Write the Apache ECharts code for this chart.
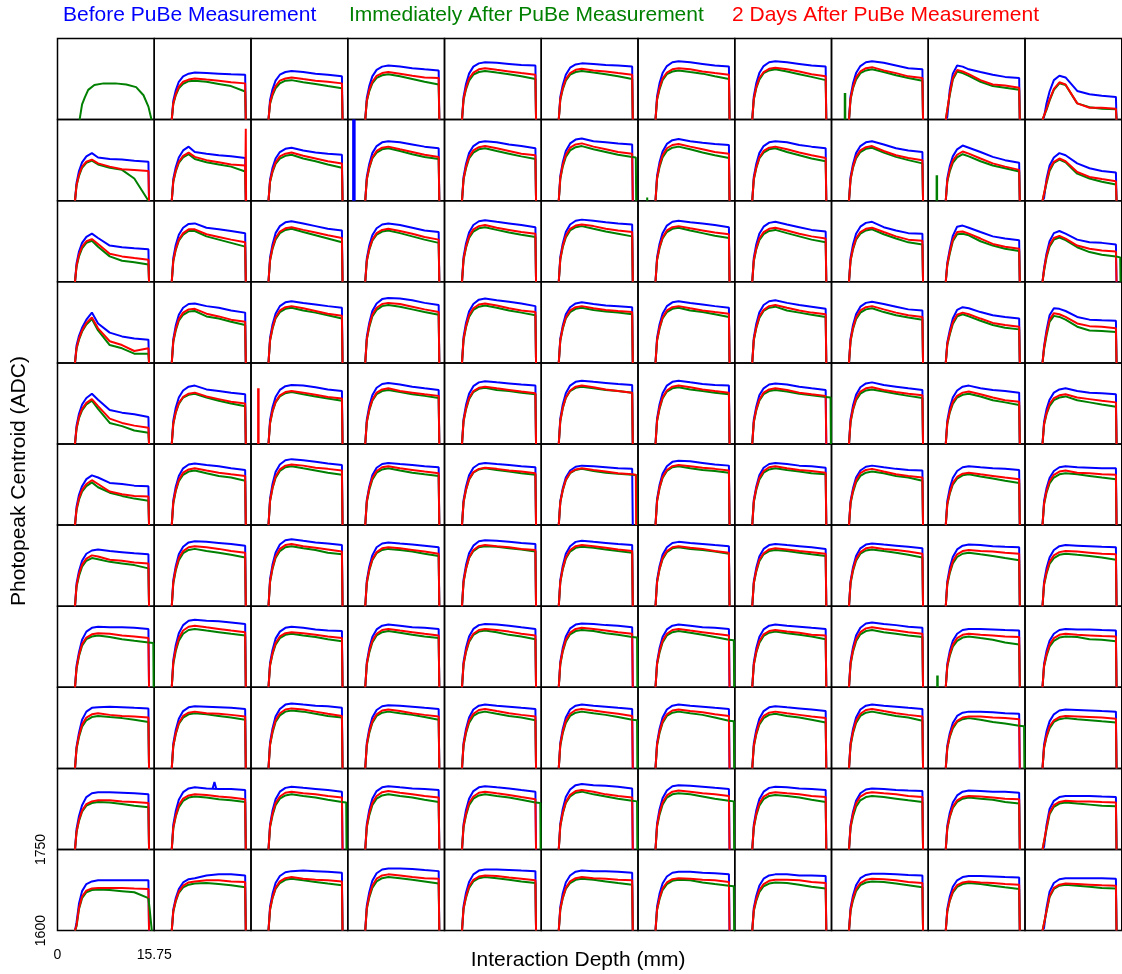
<!DOCTYPE html>
<html>
<head>
<meta charset="utf-8">
<script src="https://cdn.jsdelivr.net/npm/echarts/dist/echarts.min.js"></script>
<style>html,body{margin:0;padding:0;background:#fff}#chart{width:1122px;height:974px}</style>
</head>
<body>
<div id="chart"></div>
<script>
// Interaction depth sample points (mm) shared by the main curves of every panel
const depthMm = [2.85, 3.1, 3.5, 4.0, 4.7, 5.6, 6.6, 8.5, 10.5, 12.5, 14.8, 14.9];
const xTickLabels = ['0', '15.75'];
const yTickLabels = ['1600', '1750'];
const seriesNames = ['Before PuBe Measurement', 'Immediately After PuBe Measurement', '2 Days After PuBe Measurement'];
const axisTitles = ['Interaction Depth (mm)', 'Photopeak Centroid (ADC)'];

// Photopeak centroid (ADC) per panel (row-major, 11 x 11), "Before PuBe"
const blueCurves = [
// row 0
[],
[1600,1635,1654,1670,1680,1685,1687,1686,1685,1684,1683,1600],
[1600,1636,1656,1672,1683,1688,1690,1688,1685,1683,1680,1600],
[1600,1640,1662,1680,1692,1698,1700,1698,1695,1693,1691,1600],
[1600,1642,1666,1685,1698,1704,1706,1705,1703,1701,1700,1600],
[1600,1642,1664,1683,1696,1702,1704,1703,1701,1700,1698,1600],
[1600,1643,1667,1686,1699,1706,1708,1706,1703,1700,1698,1600],
[1600,1643,1667,1686,1699,1706,1708,1706,1703,1700,1698,1600],
[1600,1643,1667,1686,1699,1706,1708,1705,1700,1695,1693,1600],
[1600,1605,1655,1685,1700,1698,1693,1688,1683,1679,1677,1600],
[1600,1605,1630,1652,1673,1681,1678,1653,1647,1644,1642,1600],
// row 1
[1600,1633,1655,1671,1682,1688,1680,1677,1676,1674,1672,1600],
[1600,1640,1662,1680,1693,1700,1690,1687,1684,1682,1679,1600],
[1600,1639,1661,1678,1690,1696,1698,1693,1689,1687,1685,1600],
[1600,1644,1668,1688,1701,1708,1710,1708,1704,1700,1697,1600],
[1600,1644,1668,1688,1701,1708,1710,1708,1704,1701,1697,1600],
[1600,1646,1671,1692,1706,1713,1715,1710,1708,1706,1704,1600],
[1600,1646,1671,1691,1705,1712,1714,1710,1707,1705,1703,1600],
[1600,1644,1668,1688,1701,1708,1710,1708,1703,1700,1697,1600],
[1600,1644,1668,1688,1701,1708,1710,1704,1697,1693,1690,1600],
[1600,1641,1664,1682,1695,1702,1698,1690,1681,1675,1670,1600],
[1600,1605,1640,1665,1680,1688,1684,1669,1660,1655,1652,1600],
// row 2
[1600,1634,1656,1672,1683,1689,1681,1667,1664,1662,1660,1600],
[1600,1644,1668,1687,1700,1707,1708,1700,1697,1694,1690,1600],
[1600,1645,1669,1690,1703,1710,1712,1708,1703,1698,1695,1600],
[1600,1643,1667,1686,1699,1706,1708,1705,1700,1695,1692,1600],
[1600,1646,1671,1691,1705,1712,1714,1711,1708,1705,1701,1600],
[1600,1646,1671,1692,1706,1713,1715,1713,1710,1708,1706,1600],
[1600,1645,1670,1690,1704,1711,1713,1710,1708,1705,1701,1600],
[1600,1644,1669,1689,1702,1709,1711,1706,1701,1696,1693,1600],
[1600,1644,1669,1689,1702,1709,1711,1701,1695,1690,1689,1600],
[1600,1635,1660,1685,1702,1704,1700,1692,1684,1680,1677,1600],
[1600,1625,1652,1675,1690,1694,1689,1678,1673,1672,1669,1600],
// row 3
[1600,1632,1650,1665,1680,1693,1673,1656,1649,1645,1643,1600],
[1600,1644,1669,1689,1702,1709,1710,1705,1702,1697,1693,1600],
[1600,1646,1671,1691,1705,1712,1714,1711,1708,1705,1702,1600],
[1600,1648,1674,1696,1710,1718,1720,1719,1716,1711,1707,1600],
[1600,1648,1674,1695,1709,1717,1719,1716,1713,1710,1705,1600],
[1600,1645,1669,1690,1703,1710,1712,1709,1706,1705,1703,1600],
[1600,1646,1671,1691,1705,1712,1714,1711,1708,1705,1702,1600],
[1600,1646,1672,1693,1707,1714,1716,1711,1707,1704,1700,1600],
[1600,1645,1670,1690,1704,1711,1713,1709,1704,1699,1697,1600],
[1600,1638,1660,1682,1698,1703,1701,1694,1688,1685,1682,1600],
[1600,1630,1660,1688,1701,1700,1696,1685,1680,1679,1678,1600],
// row 4
[1600,1634,1656,1673,1685,1693,1682,1663,1658,1655,1650,1600],
[1600,1643,1667,1686,1699,1706,1708,1701,1698,1695,1692,1600],
[1600,1644,1668,1687,1700,1707,1709,1708,1705,1701,1698,1600],
[1600,1645,1670,1690,1704,1711,1713,1710,1706,1703,1700,1600],
[1600,1646,1672,1693,1707,1714,1716,1714,1712,1710,1708,1600],
[1600,1647,1673,1694,1708,1715,1717,1715,1713,1711,1709,1600],
[1600,1647,1673,1694,1708,1715,1717,1714,1711,1709,1708,1600],
[1600,1645,1669,1690,1703,1710,1712,1710,1706,1703,1700,1600],
[1600,1646,1671,1691,1705,1712,1714,1709,1706,1703,1700,1600],
[1600,1643,1667,1686,1699,1706,1708,1703,1700,1698,1695,1600],
[1600,1641,1664,1682,1695,1701,1703,1698,1695,1694,1692,1600],
// row 5
[1600,1634,1656,1672,1685,1692,1688,1678,1676,1673,1672,1600],
[1600,1646,1671,1691,1705,1712,1714,1711,1709,1705,1702,1600],
[1600,1649,1676,1698,1712,1720,1722,1720,1717,1714,1711,1600],
[1600,1646,1671,1692,1706,1713,1715,1713,1711,1709,1707,1600],
[1600,1646,1671,1692,1706,1713,1715,1713,1711,1709,1707,1600],
[1600,1644,1668,1688,1701,1708,1710,1709,1707,1705,1704,1600],
[1600,1648,1674,1695,1709,1717,1719,1718,1715,1712,1710,1600],
[1600,1646,1671,1692,1706,1713,1715,1713,1710,1709,1706,1600],
[1600,1644,1668,1688,1701,1708,1710,1707,1704,1702,1701,1600],
[1600,1644,1668,1687,1700,1707,1709,1707,1705,1704,1702,1600],
[1600,1644,1668,1687,1700,1707,1709,1707,1706,1705,1705,1600],
// row 6
[1600,1642,1665,1684,1697,1703,1705,1702,1700,1698,1696,1600],
[1600,1648,1674,1696,1710,1718,1720,1719,1717,1715,1712,1600],
[1600,1650,1677,1699,1714,1722,1724,1721,1718,1716,1713,1600],
[1600,1647,1673,1694,1709,1716,1718,1716,1714,1712,1709,1600],
[1600,1649,1676,1698,1712,1720,1722,1721,1719,1717,1715,1600],
[1600,1648,1675,1697,1711,1719,1721,1719,1717,1715,1713,1600],
[1600,1648,1674,1695,1709,1717,1719,1717,1715,1713,1711,1600],
[1600,1646,1671,1692,1706,1713,1715,1713,1711,1709,1706,1600],
[1600,1646,1672,1693,1707,1714,1716,1714,1712,1710,1707,1600],
[1600,1646,1671,1691,1705,1712,1714,1713,1711,1710,1709,1600],
[1600,1645,1670,1690,1704,1711,1713,1712,1711,1710,1709,1600],
// row 7
[1600,1640,1665,1688,1703,1710,1712,1711,1711,1710,1708,1600],
[1600,1650,1678,1700,1715,1723,1725,1723,1722,1720,1717,1600],
[1600,1645,1669,1690,1703,1710,1712,1710,1707,1705,1704,1600],
[1600,1646,1672,1693,1707,1714,1716,1714,1711,1710,1708,1600],
[1600,1647,1673,1694,1708,1715,1717,1716,1714,1711,1708,1600],
[1600,1647,1673,1694,1709,1716,1718,1717,1715,1714,1711,1600],
[1600,1646,1672,1693,1707,1714,1716,1714,1711,1710,1708,1600],
[1600,1646,1672,1693,1707,1714,1716,1714,1712,1710,1708,1600],
[1600,1648,1674,1696,1710,1718,1720,1717,1715,1712,1710,1600],
[1600,1643,1667,1686,1699,1706,1708,1708,1707,1706,1705,1600],
[1600,1643,1667,1686,1699,1706,1708,1707,1707,1706,1705,1600],
// row 8
[1600,1640,1666,1690,1705,1712,1713,1714,1713,1712,1711,1600],
[1600,1646,1671,1692,1706,1713,1715,1714,1713,1712,1710,1600],
[1600,1648,1674,1696,1710,1718,1720,1718,1716,1715,1712,1600],
[1600,1647,1673,1694,1708,1715,1717,1716,1714,1712,1710,1600],
[1600,1647,1673,1694,1709,1716,1718,1716,1714,1712,1710,1600],
[1600,1647,1673,1694,1709,1716,1718,1716,1714,1712,1710,1600],
[1600,1647,1673,1694,1709,1716,1718,1716,1714,1712,1710,1600],
[1600,1646,1671,1692,1706,1713,1715,1713,1711,1709,1706,1600],
[1600,1647,1673,1694,1709,1716,1718,1716,1714,1712,1710,1600],
[1600,1642,1665,1684,1697,1703,1705,1705,1704,1702,1701,1600],
[1600,1644,1668,1687,1700,1707,1709,1708,1707,1706,1705,1600],
// row 9
[1600,1638,1662,1682,1697,1704,1706,1706,1705,1704,1702,1600],
[1600,1646,1671,1692,1706,1713,1715,1713,1712,1712,1710,1600],
[1600,1646,1672,1693,1707,1714,1716,1714,1712,1710,1707,1600],
[1600,1647,1673,1694,1708,1715,1717,1715,1713,1712,1710,1600],
[1600,1647,1673,1694,1708,1715,1717,1715,1713,1710,1707,1600],
[1600,1648,1675,1697,1711,1719,1721,1719,1718,1716,1713,1600],
[1600,1648,1674,1695,1709,1717,1719,1718,1716,1714,1712,1600],
[1600,1646,1672,1693,1707,1714,1716,1715,1713,1712,1710,1600],
[1600,1645,1670,1690,1704,1711,1713,1712,1710,1709,1708,1600],
[1600,1644,1668,1687,1700,1707,1709,1708,1707,1707,1705,1600],
[1600,1605,1645,1675,1690,1697,1699,1699,1699,1698,1697,1600],
// row 10
[1600,1615,1650,1673,1686,1691,1693,1693,1693,1693,1693,1600],
[1600,1639,1660,1677,1689,1695,1697,1702,1704,1704,1702,1600],
[1600,1644,1668,1688,1701,1708,1710,1711,1710,1709,1707,1600],
[1600,1646,1671,1692,1706,1713,1715,1715,1714,1712,1710,1600],
[1600,1645,1670,1690,1704,1711,1713,1713,1712,1711,1710,1600],
[1600,1644,1669,1689,1702,1709,1711,1710,1710,1709,1707,1600],
[1600,1644,1668,1687,1700,1707,1709,1709,1707,1706,1704,1600],
[1600,1642,1664,1683,1696,1702,1704,1704,1702,1702,1701,1600],
[1600,1642,1665,1684,1697,1703,1705,1705,1704,1703,1702,1600],
[1600,1640,1663,1681,1693,1699,1701,1701,1700,1699,1698,1600],
[1600,1605,1642,1672,1688,1695,1697,1697,1697,1697,1696,1600]
];

// "Immediately After PuBe"
const greenCurves = [
// row 0
[],
[1600,1629,1645,1658,1666,1671,1672,1670,1666,1662,1652,1600],
[1600,1629,1645,1658,1667,1672,1673,1669,1666,1662,1658,1600],
[1600,1634,1652,1667,1677,1682,1684,1680,1675,1670,1665,1600],
[1600,1636,1656,1672,1683,1688,1690,1687,1684,1680,1675,1600],
[1600,1636,1656,1672,1683,1688,1690,1687,1684,1680,1675,1600],
[1600,1636,1656,1673,1684,1689,1691,1688,1685,1680,1675,1600],
[1600,1637,1658,1674,1686,1691,1693,1689,1684,1679,1673,1600],
[1600,1637,1658,1674,1686,1691,1693,1688,1682,1677,1672,1600],
[1600,1602,1645,1674,1689,1686,1681,1670,1662,1659,1655,1600],
[1600,1602,1618,1635,1655,1667,1664,1630,1623,1620,1619,1600],
// row 1
[1600,1628,1646,1661,1670,1674,1667,1661,1657,1641,1600,1600],
[1600,1635,1654,1670,1680,1686,1677,1671,1667,1663,1654,1600],
[1600,1634,1653,1668,1678,1683,1685,1678,1673,1667,1661,1600],
[1600,1639,1660,1678,1689,1695,1697,1692,1686,1681,1677,1600],
[1600,1639,1660,1678,1689,1695,1697,1692,1687,1682,1677,1600],
[1600,1640,1663,1681,1693,1699,1701,1695,1690,1685,1681,null],
[1600,1640,1662,1680,1692,1698,1700,1695,1689,1684,1679,1600],
[1600,1639,1660,1678,1689,1695,1697,1690,1684,1678,1673,1600],
[1600,1639,1661,1678,1690,1696,1698,1689,1681,1675,1669,1600],
[1600,1635,1654,1670,1680,1686,1682,1673,1665,1660,1654,1600],
[1600,1602,1632,1655,1670,1676,1671,1650,1641,1635,1630,1600],
// row 2
[1600,1628,1647,1662,1672,1676,1665,1647,1639,1636,1632,1600],
[1600,1638,1659,1676,1687,1694,1694,1684,1678,1672,1665,1600],
[1600,1639,1661,1678,1690,1696,1698,1692,1686,1680,1673,1600],
[1600,1638,1659,1676,1687,1693,1695,1690,1684,1678,1672,1600],
[1600,1640,1663,1681,1693,1699,1701,1696,1691,1687,1683,1600],
[1600,1641,1664,1682,1695,1701,1703,1698,1693,1689,1684,1600],
[1600,1640,1662,1680,1692,1698,1700,1695,1690,1685,1681,1600],
[1600,1638,1660,1677,1688,1694,1696,1690,1684,1678,1673,1600],
[1600,1639,1660,1678,1689,1695,1697,1688,1680,1673,1669,1600],
[1600,1630,1652,1675,1688,1689,1686,1675,1667,1661,1657,1600],
[1600,1620,1645,1665,1678,1682,1677,1664,1655,1650,1647,null],
// row 3
[1600,1626,1643,1658,1671,1681,1660,1633,1627,1617,1617,1600],
[1600,1639,1660,1678,1689,1695,1696,1686,1682,1676,1670,1600],
[1600,1641,1663,1682,1694,1700,1702,1697,1693,1688,1682,1600],
[1600,1643,1666,1686,1698,1705,1707,1704,1699,1694,1689,1600],
[1600,1642,1666,1685,1698,1704,1706,1702,1697,1693,1688,1600],
[1600,1641,1663,1682,1694,1700,1702,1698,1695,1693,1690,1600],
[1600,1641,1663,1682,1694,1700,1702,1697,1694,1690,1685,1600],
[1600,1642,1664,1683,1696,1702,1704,1697,1693,1689,1685,1600],
[1600,1640,1663,1681,1693,1699,1701,1694,1688,1684,1680,1600],
[1600,1633,1652,1672,1686,1690,1686,1678,1670,1665,1662,1600],
[1600,1625,1650,1676,1687,1685,1680,1667,1660,1659,1657,1600],
// row 4
[1600,1628,1648,1662,1673,1680,1665,1639,1633,1625,1621,1600],
[1600,1637,1658,1674,1686,1691,1693,1686,1680,1675,1670,1600],
[1600,1638,1660,1677,1688,1694,1696,1692,1688,1684,1680,1600],
[1600,1640,1662,1680,1692,1698,1700,1696,1692,1689,1685,1600],
[1600,1642,1664,1683,1696,1702,1704,1700,1698,1695,1692,1600],
[1600,1642,1666,1685,1698,1704,1706,1703,1700,1698,1695,1600],
[1600,1642,1665,1684,1697,1703,1705,1701,1698,1695,1692,1600],
[1600,1640,1662,1680,1692,1698,1700,1697,1693,1690,1687,null],
[1600,1640,1663,1681,1693,1699,1701,1697,1693,1689,1685,1600],
[1600,1637,1658,1674,1686,1691,1693,1688,1681,1677,1672,1600],
[1600,1635,1655,1670,1681,1686,1688,1681,1677,1673,1669,1600],
// row 5
[1600,1628,1647,1662,1672,1679,1670,1660,1654,1649,1645,1600],
[1600,1640,1663,1681,1693,1699,1701,1696,1691,1688,1682,1600],
[1600,1644,1668,1687,1700,1707,1709,1705,1701,1697,1693,1600],
[1600,1642,1665,1684,1697,1703,1705,1701,1697,1694,1691,1600],
[1600,1642,1665,1684,1697,1703,1705,1702,1699,1696,1693,1600],
[1600,1642,1664,1683,1696,1702,1704,1700,1697,1695,1693,null],
[1600,1644,1668,1687,1700,1707,1709,1705,1702,1700,1697,1600],
[1600,1642,1665,1684,1697,1703,1705,1702,1699,1696,1694,1600],
[1600,1640,1661,1679,1691,1697,1699,1696,1691,1688,1682,1600],
[1600,1638,1658,1675,1686,1692,1694,1690,1686,1682,1678,1600],
[1600,1638,1660,1677,1688,1694,1696,1694,1691,1688,1685,1600],
// row 6
[1600,1636,1656,1673,1684,1689,1687,1682,1679,1676,1670,1600],
[1600,1642,1666,1685,1698,1704,1706,1702,1699,1695,1690,1600],
[1600,1644,1669,1689,1702,1709,1711,1707,1704,1699,1696,1600],
[1600,1642,1666,1685,1698,1704,1706,1704,1701,1697,1693,1600],
[1600,1644,1669,1689,1702,1709,1711,1710,1707,1705,1701,1600],
[1600,1644,1668,1688,1701,1708,1710,1708,1705,1702,1699,1600],
[1600,1644,1668,1687,1700,1707,1709,1706,1704,1701,1697,1600],
[1600,1642,1664,1683,1696,1702,1704,1702,1699,1696,1693,1600],
[1600,1642,1665,1684,1697,1703,1705,1702,1699,1695,1690,1600],
[1600,1640,1661,1679,1691,1697,1699,1696,1693,1689,1685,1600],
[1600,1639,1660,1678,1689,1695,1697,1695,1693,1690,1686,1600],
// row 7
[1600,1634,1658,1677,1689,1694,1696,1693,1689,1686,1683,null],
[1600,1643,1667,1686,1699,1706,1708,1705,1702,1699,1696,1600],
[1600,1640,1661,1679,1691,1697,1699,1696,1693,1689,1685,1600],
[1600,1642,1664,1683,1696,1702,1704,1701,1697,1694,1691,1600],
[1600,1642,1665,1684,1697,1703,1705,1702,1697,1694,1689,1600],
[1600,1642,1666,1685,1698,1704,1706,1704,1700,1697,1693,null],
[1600,1642,1664,1683,1696,1702,1704,1701,1697,1693,1688,null],
[1600,1641,1664,1682,1695,1701,1703,1700,1697,1694,1689,1600],
[1600,1642,1666,1685,1698,1704,1706,1702,1699,1696,1693,1600],
[1600,1638,1658,1675,1686,1692,1694,1691,1688,1683,1679,1600],
[1600,1638,1658,1675,1686,1692,1694,1693,1689,1688,1685,1600],
// row 8
[1600,1636,1658,1677,1689,1695,1697,1695,1693,1690,1686,1600],
[1600,1641,1663,1682,1694,1700,1702,1700,1697,1694,1690,1600],
[1600,1643,1666,1686,1698,1705,1707,1705,1701,1697,1694,1600],
[1600,1642,1665,1684,1697,1703,1705,1702,1699,1695,1690,1600],
[1600,1642,1665,1684,1697,1703,1705,1701,1697,1694,1689,1600],
[1600,1642,1665,1684,1697,1703,1705,1702,1699,1695,1690,null],
[1600,1642,1665,1684,1697,1703,1705,1702,1699,1694,1688,null],
[1600,1640,1663,1681,1693,1699,1701,1697,1694,1690,1685,1600],
[1600,1642,1665,1684,1697,1703,1705,1701,1697,1694,1688,1600],
[1600,1637,1658,1674,1686,1691,1693,1690,1686,1683,1679,null],
[1600,1637,1658,1674,1686,1691,1693,1691,1689,1687,1685,1600],
// row 9
[1600,1632,1653,1670,1681,1686,1688,1687,1684,1681,1678,1600],
[1600,1639,1661,1678,1690,1696,1698,1696,1693,1691,1688,1600],
[1600,1641,1663,1682,1694,1700,1702,1699,1696,1692,1688,null],
[1600,1641,1663,1682,1694,1700,1702,1699,1696,1692,1688,1600],
[1600,1641,1663,1682,1694,1700,1702,1699,1696,1692,1687,null],
[1600,1643,1666,1686,1698,1705,1707,1702,1698,1694,1690,null],
[1600,1642,1664,1683,1696,1702,1704,1702,1698,1694,1690,null],
[1600,1640,1663,1681,1693,1699,1701,1699,1696,1692,1688,1600],
[1600,1640,1661,1679,1691,1697,1699,1697,1694,1691,1688,1600],
[1600,1638,1660,1677,1688,1694,1696,1694,1692,1688,1685,1600],
[1600,1602,1637,1665,1679,1685,1687,1685,1683,1681,1680,1600],
// row 10
[1600,1608,1640,1660,1671,1675,1676,1675,1673,1671,1660,null],
[1600,1635,1654,1670,1680,1685,1687,1688,1686,1684,1680,1600],
[1600,1638,1660,1677,1688,1694,1696,1693,1690,1687,1684,1600],
[1600,1640,1661,1679,1691,1697,1699,1697,1694,1691,1687,1600],
[1600,1640,1661,1679,1691,1697,1699,1697,1694,1691,1688,1600],
[1600,1638,1660,1677,1688,1694,1696,1694,1691,1688,1685,1600],
[1600,1638,1658,1675,1686,1692,1694,1693,1689,1686,1683,null],
[1600,1636,1655,1671,1682,1687,1689,1688,1685,1681,1678,1600],
[1600,1636,1656,1673,1684,1689,1691,1690,1687,1684,1680,1600],
[1600,1635,1655,1670,1681,1686,1688,1686,1683,1680,1677,1600],
[1600,1603,1635,1662,1677,1683,1685,1683,1681,1679,1678,1600]
];

// "2 Days After PuBe"
const redCurves = [
// row 0
[],
[1600,1630,1647,1661,1670,1674,1676,1674,1672,1669,1667,1600],
[1600,1631,1648,1662,1672,1676,1678,1675,1672,1670,1667,1600],
[1600,1635,1655,1670,1681,1686,1688,1685,1681,1678,1677,1600],
[1600,1638,1659,1676,1687,1693,1695,1692,1689,1686,1683,1600],
[1600,1638,1658,1675,1686,1692,1694,1691,1689,1686,1683,1600],
[1600,1638,1659,1676,1687,1693,1695,1693,1689,1686,1683,1600],
[1600,1638,1660,1677,1688,1694,1696,1693,1689,1684,1680,1600],
[1600,1639,1660,1678,1689,1695,1697,1691,1686,1680,1677,1600],
[1600,1603,1648,1677,1692,1689,1684,1673,1665,1663,1659,1600],
[1600,1603,1620,1637,1657,1669,1665,1630,1622,1622,1620,1600],
// row 1
[1600,1629,1648,1663,1672,1676,1669,1663,1658,1657,1655,1600],
[1600,1636,1656,1672,1683,1689,1681,1675,1671,1667,1665,1600],
[1600,1636,1655,1671,1682,1687,1689,1683,1678,1673,1669,1600],
[1600,1640,1662,1680,1692,1698,1700,1695,1690,1685,1681,1600],
[1600,1640,1663,1681,1693,1699,1701,1697,1692,1687,1684,1600],
[1600,1642,1666,1685,1698,1704,1706,1700,1695,1690,1687,1600],
[1600,1642,1665,1684,1697,1703,1705,1700,1695,1690,1687,1600],
[1600,1640,1662,1680,1692,1698,1700,1695,1689,1684,1679,1600],
[1600,1640,1663,1681,1693,1699,1701,1692,1684,1679,1675,1600],
[1600,1637,1658,1674,1685,1691,1687,1678,1669,1663,1657,1600],
[1600,1603,1635,1658,1672,1678,1673,1653,1644,1640,1636,1600],
// row 2
[1600,1630,1650,1665,1675,1679,1670,1652,1647,1644,1641,1600],
[1600,1639,1661,1678,1690,1697,1697,1688,1683,1678,1673,1600],
[1600,1640,1663,1681,1693,1699,1701,1696,1691,1686,1681,1600],
[1600,1639,1661,1678,1690,1696,1698,1694,1689,1683,1678,1600],
[1600,1642,1665,1684,1697,1703,1705,1700,1696,1692,1689,1600],
[1600,1642,1666,1685,1698,1704,1706,1703,1698,1695,1692,1600],
[1600,1641,1664,1682,1695,1701,1703,1699,1695,1691,1688,1600],
[1600,1640,1662,1680,1692,1698,1700,1695,1689,1684,1680,1600],
[1600,1640,1662,1680,1692,1698,1700,1692,1684,1678,1676,1600],
[1600,1632,1655,1678,1692,1693,1689,1680,1670,1665,1661,1600],
[1600,1622,1648,1668,1681,1685,1680,1667,1661,1658,1656,1600],
// row 3
[1600,1628,1645,1660,1674,1684,1664,1640,1633,1622,1627,1600],
[1600,1640,1663,1681,1693,1699,1700,1691,1686,1680,1676,1600],
[1600,1642,1665,1684,1697,1703,1705,1701,1696,1691,1687,1600],
[1600,1644,1669,1689,1702,1709,1711,1709,1704,1699,1694,1600],
[1600,1644,1668,1688,1701,1708,1710,1706,1701,1697,1694,1600],
[1600,1642,1665,1684,1697,1703,1705,1701,1698,1696,1694,1600],
[1600,1642,1665,1684,1697,1703,1705,1701,1697,1694,1691,1600],
[1600,1643,1666,1686,1698,1705,1707,1702,1697,1693,1690,1600],
[1600,1642,1665,1684,1697,1703,1705,1699,1693,1688,1685,1600],
[1600,1635,1655,1675,1689,1693,1690,1682,1674,1670,1667,1600],
[1600,1628,1655,1680,1692,1690,1685,1673,1668,1667,1664,1600],
// row 4
[1600,1630,1650,1665,1676,1683,1670,1647,1639,1634,1630,1600],
[1600,1638,1659,1676,1687,1693,1695,1688,1683,1678,1675,1600],
[1600,1639,1661,1678,1690,1696,1698,1695,1691,1687,1684,1600],
[1600,1641,1664,1682,1695,1701,1703,1698,1695,1692,1689,1600],
[1600,1642,1666,1685,1698,1704,1706,1703,1700,1697,1694,1600],
[1600,1643,1667,1686,1699,1706,1708,1705,1701,1698,1695,1600],
[1600,1643,1667,1686,1699,1706,1708,1705,1701,1698,1695,1600],
[1600,1641,1664,1682,1695,1701,1703,1700,1695,1692,1689,1600],
[1600,1642,1665,1684,1697,1703,1705,1700,1696,1693,1690,1600],
[1600,1639,1660,1678,1689,1695,1697,1692,1686,1681,1678,1600],
[1600,1637,1657,1674,1685,1690,1692,1686,1683,1680,1677,1600],
// row 5
[1600,1630,1650,1665,1676,1683,1676,1662,1657,1654,1653,1600],
[1600,1642,1665,1684,1697,1703,1705,1701,1697,1694,1691,1600],
[1600,1645,1669,1690,1703,1710,1712,1710,1706,1704,1701,1600],
[1600,1644,1668,1687,1700,1707,1709,1705,1702,1699,1696,1600],
[1600,1642,1666,1685,1698,1704,1706,1704,1701,1699,1696,1600],
[1600,1642,1665,1684,1697,1703,1705,1702,1699,1696,1694,null],
[1600,1644,1669,1689,1702,1709,1711,1709,1706,1704,1701,1600],
[1600,1644,1668,1687,1700,1707,1709,1705,1702,1700,1697,1600],
[1600,1642,1664,1683,1696,1702,1704,1699,1694,1691,1688,1600],
[1600,1639,1660,1678,1689,1695,1697,1694,1691,1688,1685,1600],
[1600,1640,1663,1681,1693,1699,1701,1697,1696,1694,1693,1600],
// row 6
[1600,1638,1660,1677,1688,1694,1692,1686,1684,1681,1679,1600],
[1600,1644,1669,1689,1702,1709,1711,1709,1706,1702,1699,1600],
[1600,1646,1671,1692,1706,1713,1715,1711,1708,1705,1701,1600],
[1600,1644,1668,1687,1700,1707,1709,1707,1704,1701,1697,1600],
[1600,1645,1670,1690,1704,1711,1713,1711,1709,1706,1704,1600],
[1600,1645,1670,1690,1704,1711,1713,1711,1708,1705,1702,1600],
[1600,1644,1669,1689,1702,1709,1711,1708,1706,1702,1699,1600],
[1600,1643,1666,1686,1698,1705,1707,1705,1702,1700,1697,1600],
[1600,1644,1668,1687,1700,1707,1709,1706,1704,1701,1697,1600],
[1600,1642,1664,1683,1696,1702,1704,1702,1701,1699,1697,1600],
[1600,1641,1663,1682,1694,1700,1702,1701,1699,1697,1696,1600],
// row 7
[1600,1636,1660,1680,1692,1698,1700,1699,1696,1694,1691,1600],
[1600,1646,1671,1691,1705,1712,1714,1711,1708,1705,1702,1600],
[1600,1641,1663,1682,1694,1700,1702,1700,1697,1694,1691,1600],
[1600,1643,1667,1686,1699,1706,1708,1705,1702,1699,1696,1600],
[1600,1643,1667,1686,1699,1706,1708,1706,1703,1699,1696,1600],
[1600,1644,1668,1688,1701,1708,1710,1708,1705,1702,1699,1600],
[1600,1643,1667,1686,1699,1706,1708,1705,1702,1699,1696,1600],
[1600,1642,1666,1685,1698,1704,1706,1703,1701,1697,1696,1600],
[1600,1644,1669,1689,1702,1709,1711,1708,1705,1702,1699,1600],
[1600,1640,1661,1679,1691,1697,1699,1697,1696,1694,1693,1600],
[1600,1640,1661,1679,1691,1697,1699,1697,1696,1695,1694,1600],
// row 8
[1600,1638,1661,1681,1694,1700,1702,1699,1697,1696,1694,1600],
[1600,1642,1665,1684,1697,1703,1705,1702,1701,1699,1696,1600],
[1600,1644,1669,1689,1702,1709,1711,1709,1705,1701,1697,1600],
[1600,1644,1668,1687,1700,1707,1709,1706,1702,1699,1696,1600],
[1600,1644,1668,1688,1701,1708,1710,1706,1702,1699,1696,1600],
[1600,1644,1668,1688,1701,1708,1710,1707,1704,1701,1697,1600],
[1600,1644,1668,1687,1700,1707,1709,1706,1704,1700,1697,1600],
[1600,1642,1665,1684,1697,1703,1705,1702,1699,1696,1693,1600],
[1600,1644,1668,1688,1701,1708,1710,1706,1702,1699,1696,1600],
[1600,1638,1660,1677,1688,1694,1696,1696,1694,1693,1691,1600],
[1600,1639,1660,1678,1689,1695,1697,1696,1695,1694,1692,1600],
// row 9
[1600,1633,1655,1672,1684,1689,1691,1691,1689,1688,1686,1600],
[1600,1641,1663,1682,1694,1700,1702,1701,1698,1696,1693,1600],
[1600,1643,1666,1686,1698,1705,1707,1704,1702,1699,1696,1600],
[1600,1643,1667,1686,1699,1706,1708,1705,1702,1699,1696,1600],
[1600,1643,1666,1686,1698,1705,1707,1704,1701,1697,1693,1600],
[1600,1644,1668,1688,1701,1708,1710,1707,1702,1699,1696,1600],
[1600,1644,1668,1687,1700,1707,1709,1707,1704,1702,1699,1600],
[1600,1642,1666,1685,1698,1704,1706,1704,1702,1699,1697,1600],
[1600,1642,1666,1685,1698,1704,1706,1704,1702,1699,1697,1600],
[1600,1640,1661,1679,1691,1697,1699,1698,1696,1694,1693,1600],
[1600,1603,1640,1668,1682,1688,1690,1689,1689,1688,1687,1600],
// row 10
[1600,1610,1642,1663,1674,1678,1679,1679,1679,1678,1677,1600],
[1600,1636,1656,1672,1683,1689,1691,1693,1693,1691,1690,1600],
[1600,1640,1661,1679,1691,1697,1699,1696,1694,1693,1691,1600],
[1600,1642,1664,1683,1696,1702,1704,1702,1699,1697,1696,1600],
[1600,1641,1663,1682,1694,1700,1702,1701,1698,1696,1693,1600],
[1600,1640,1661,1679,1691,1697,1699,1697,1696,1694,1693,1600],
[1600,1639,1660,1678,1689,1695,1697,1696,1694,1693,1690,1600],
[1600,1638,1658,1675,1686,1692,1694,1694,1693,1690,1688,1600],
[1600,1638,1660,1677,1688,1694,1696,1695,1693,1690,1688,1600],
[1600,1636,1656,1673,1684,1689,1691,1689,1688,1686,1685,1600],
[1600,1603,1636,1664,1679,1685,1687,1686,1685,1684,1683,1600]
];

// Irregular traces: [panel, series, [[depth, ADC], ...], line width]
const extraTraces = [
[0,  'green', [[3.6,1600],[4.0,1628],[4.45,1641],[5.0,1655],[6.0,1664],[7.5,1667],[9.4,1667],[11.2,1665],[12.8,1660],[14.0,1645],[14.8,1624],[15.3,1600]], 2],
[8,  'green', [[2.2,1600],[2.2,1649]], 2.5],
[12, 'red',   [[14.85,1665],[14.9,1733],[14.95,1600]], 2],
[14, 'blue',  [[1.0,1600],[1.0,1750]], 3.5],
[16, 'green', [[14.8,1681],[15.4,1680],[15.45,1600]], 2],
[17, 'green', [[1.5,1600],[1.5,1606]], 2],
[20, 'green', [[1.4,1600],[1.4,1647]], 2.5],
[32, 'green', [[14.8,1647],[15.5,1645],[15.55,1600]], 2],
[46, 'red',   [[1.2,1600],[1.2,1703]], 2.5],
[51, 'green', [[14.8,1687],[15.6,1686],[15.65,1600]], 2],
[60, 'green', [[14.8,1693],[15.5,1692],[15.55,1600]], 2],
[60, 'red',   [[14.8,1694],[15.4,1693],[15.45,1600]], 2],
[77, 'green', [[14.8,1683],[15.6,1682],[15.65,1600]], 2],
[82, 'green', [[14.8,1693],[15.6,1692],[15.65,1600]], 2],
[83, 'green', [[14.8,1688],[15.6,1687],[15.65,1600]], 2],
[86, 'green', [[1.5,1600],[1.5,1622]], 2.5],
[93, 'green', [[14.8,1690],[15.6,1689],[15.65,1600]], 2],
[94, 'green', [[14.8,1688],[15.6,1687],[15.65,1600]], 2],
[97, 'green', [[14.8,1679],[15.6,1678],[15.65,1600]], 2],
[100,'blue',  [[9.5,1713],[9.8,1725],[10.1,1712]], 2],
[101,'green', [[14.8,1688],[15.5,1687],[15.55,1600]], 2],
[103,'green', [[14.8,1687],[15.6,1686],[15.65,1600]], 2],
[104,'green', [[14.8,1690],[15.6,1689],[15.65,1600]], 2],
[105,'green', [[14.8,1690],[15.6,1689],[15.65,1600]], 2],
[110,'green', [[14.8,1660],[15.0,1640],[15.35,1600]], 2],
[116,'green', [[14.8,1683],[15.6,1682],[15.65,1600]], 2]
];

const palette = { blue: '#0000ff', green: '#008000', red: '#ff0000' };
const FONT = '"Liberation Sans", Arial, Helvetica, sans-serif';
const NROW = 11, NCOL = 11;
const LEFT = 57.5, TOP = 38.5, CELL_W = 96.75, CELL_H = 81.1;
const CORNER = (NROW - 1) * NCOL; // bottom-left panel carries the tick labels

const grids = [], xAxes = [], yAxes = [], series = [];

function pushLine(p, data, color, width, z) {
  if (!data.length) return;
  series.push({
    type: 'line', xAxisIndex: p, yAxisIndex: p, data: data,
    symbol: 'none', showSymbol: false, silent: true, animation: false, clip: true,
    lineStyle: { color: color, width: width }, itemStyle: { color: color }, z: z
  });
}

for (let p = 0; p < NROW * NCOL; p++) {
  const r = Math.floor(p / NCOL), c = p % NCOL;
  const corner = p === CORNER;
  grids.push({
    left: LEFT + c * CELL_W, top: TOP + r * CELL_H, width: CELL_W, height: CELL_H,
    show: true, borderColor: '#000', borderWidth: 1.5, backgroundColor: 'rgba(0,0,0,0)'
  });
  xAxes.push({
    gridIndex: p, type: 'value', min: 0, max: 15.75, interval: 15.75, show: corner,
    axisLine: { show: false }, axisTick: { show: false }, splitLine: { show: false },
    axisLabel: {
      show: corner, margin: 18, fontSize: 14, color: '#000', fontFamily: FONT,
      showMinLabel: true, showMaxLabel: true,
      formatter: v => (v === 0 ? xTickLabels[0] : xTickLabels[1])
    }
  });
  yAxes.push({
    gridIndex: p, type: 'value', min: 1600, max: 1750, interval: 150, show: corner,
    axisLine: { show: false }, axisTick: { show: false }, splitLine: { show: false },
    axisLabel: {
      show: corner, rotate: 90, margin: 9, fontSize: 14, color: '#000', fontFamily: FONT,
      showMinLabel: true, showMaxLabel: true,
      formatter: v => (v === 1600 ? yTickLabels[0] : yTickLabels[1])
    }
  });
  const sets = [[blueCurves[p], palette.blue, 3], [greenCurves[p], palette.green, 4], [redCurves[p], palette.red, 5]];
  sets.forEach(([vals, color, z]) => {
    const data = [];
    vals.forEach((v, k) => { if (v !== null) data.push([depthMm[k], v]); });
    pushLine(p, data, color, 2, z);
  });
}
extraTraces.forEach(([p, key, pts, w]) => pushLine(p, pts, palette[key], w, 6));

const textStyleBase = { font: '21px ' + FONT, textVerticalAlign: 'middle', verticalAlign: 'middle' };
const graphics = [
  { type: 'text', x: 63,  y: 15, style: Object.assign({ text: seriesNames[0], fill: palette.blue,  textAlign: 'left', align: 'left' }, textStyleBase) },
  { type: 'text', x: 349, y: 15, style: Object.assign({ text: seriesNames[1], fill: palette.green, textAlign: 'left', align: 'left' }, textStyleBase) },
  { type: 'text', x: 732, y: 15, style: Object.assign({ text: seriesNames[2], fill: palette.red,   textAlign: 'left', align: 'left' }, textStyleBase) },
  { type: 'text', x: 578, y: 960, style: Object.assign({ text: axisTitles[0], fill: '#000', textAlign: 'center', align: 'center' }, textStyleBase) },
  { type: 'text', x: 19, y: 481, rotation: Math.PI / 2, style: Object.assign({ text: axisTitles[1], fill: '#000', textAlign: 'center', align: 'center' }, textStyleBase) }
];

const chart = echarts.init(document.getElementById('chart'), null, { renderer: 'canvas' });
chart.setOption({
  animation: false,
  backgroundColor: '#fff',
  grid: grids,
  xAxis: xAxes,
  yAxis: yAxes,
  series: series,
  graphic: graphics
});
</script>
</body>
</html>
